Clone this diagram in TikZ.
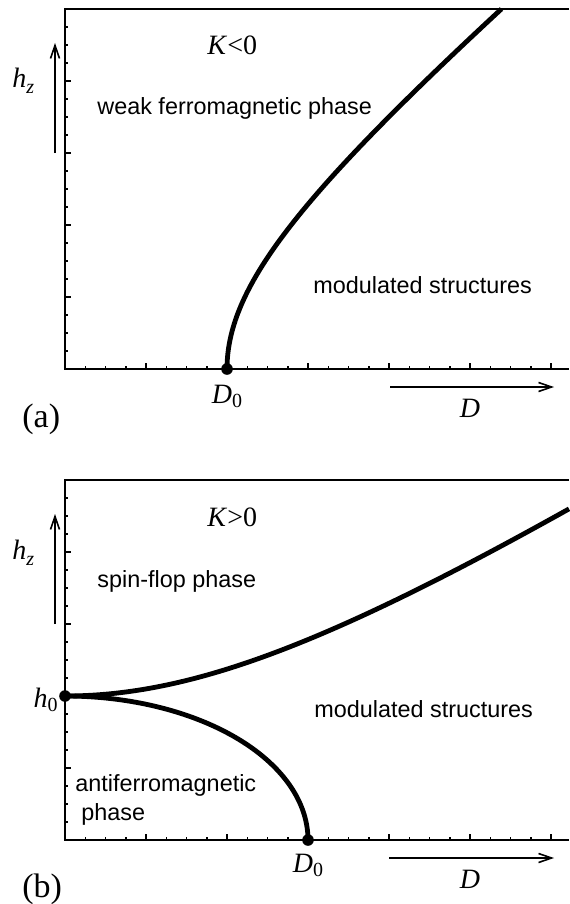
\documentclass[tikz,border=0pt]{standalone}
\usepackage{fontspec}
\setmainfont{Liberation Serif}
\newfontfamily\lsans{Liberation Sans}
\usetikzlibrary{arrows.meta}
\newcommand{\mysubs}[2][-2pt]{\raisebox{#1}{\fontsize{10}{12}\selectfont #2}}
\begin{document}
\begin{tikzpicture}[x=0.5pt,y=-0.5pt,
  axisline/.style={line width=1pt},
  tickline/.style={line width=0.75pt},
  curveline/.style={line width=2.4pt},
  dirarrow/.style={line width=0.8pt,-{Straight Barb[length=6.5pt,width=4.5pt]}},
  sanslabel/.style={font=\lsans\fontsize{11.7}{14}\selectfont, inner sep=0pt},
  seriflabel/.style={font=\fontsize{14}{17}\selectfont, inner sep=0pt},
  panellabel/.style={font=\fontsize{17}{20}\selectfont, inner sep=0pt},
  phasedot/.style={circle,fill=black,inner sep=0pt,minimum size=5.8pt}]
\useasboundingbox (0,0) rectangle (569,904);
% frames and ticks
\foreach \oy in {0,471} {
  \draw[axisline] (569,9+\oy) -- (65,9+\oy) -- (65,369+\oy) -- (569,369+\oy);
  \foreach \k in {1,...,19} {
    \pgfmathparse{mod(\k,4)==0 ? 6 : 3}\let\len\pgfmathresult
    \draw[tickline] (65,369+\oy-18*\k) -- ++(\len,0);
  }
  \foreach \k in {1,...,24} {
    \pgfmathparse{mod(\k,4)==0 ? 6 : 3}\let\len\pgfmathresult
    \draw[tickline] (65+20.25*\k,369+\oy) -- ++(0,-\len);
  }
}
% ---------- panel (a)
\node[phasedot] (d0a) at (227,369) {};
\draw[curveline] plot[domain=0:360, samples=90, variable=\t]
  ({227+196*(sqrt(1+(\t/165)^2)-1)}, {369-\t});
\coordinate (hza0) at (55,153);
\coordinate (hza1) at (55,43);
\draw[dirarrow] (hza0) -- (hza1);
\coordinate (dxa0) at (390,387);
\coordinate (dxa1) at (554,387);
\draw[dirarrow] (dxa0) -- (dxa1);
\node[seriflabel,anchor=base west] (hzla) at (12,88) {\textit{h}\mysubs[-3pt]{\textit{z}}};
\node[seriflabel,anchor=base west] (ka) at (207,55) {\textit{K}<0};
\node[sanslabel,anchor=base west] (wfa) at (97,115) {weak ferromagnetic phase};
\node[sanslabel,anchor=base west] (msa) at (313,293) {modulated structures};
\node[seriflabel,anchor=base] (d0la) at (227,403) {\textit{D}\mysubs{0}};
\node[seriflabel,anchor=base] (dla) at (470,417) {\textit{D}};
\node[panellabel,anchor=base west] (pa) at (22,427) {(a)};
% ---------- panel (b)
\node[phasedot] (h0b) at (65,696) {};
\node[phasedot] (d0b) at (308,840) {};
\draw[curveline] plot[domain=0:504, samples=90, variable=\s]
  ({65+\s}, {696-191*(sqrt(1+(\s/295)^2)-1)});
\draw[curveline] plot[domain=0:90, samples=90, variable=\t]
  ({65+243*sin(\t)}, {840-144*cos(\t)});
\coordinate (hzb0) at (55,624);
\coordinate (hzb1) at (55,514);
\draw[dirarrow] (hzb0) -- (hzb1);
\coordinate (dxb0) at (389,858);
\coordinate (dxb1) at (554,858);
\draw[dirarrow] (dxb0) -- (dxb1);
\node[seriflabel,anchor=base west] (hzlb) at (12,559) {\textit{h}\mysubs[-3pt]{\textit{z}}};
\node[seriflabel,anchor=base east] (h0lb) at (58,707) {\textit{h}\mysubs{0}};
\node[seriflabel,anchor=base west] (kb) at (207,526) {\textit{K}>0};
\node[sanslabel,anchor=base west] (sfb) at (97,587) {spin-flop phase};
\node[sanslabel,anchor=base west] (msb) at (314,717) {modulated structures};
\node[sanslabel,anchor=base west] (afb) at (75,791) {antiferromagnetic};
\node[sanslabel,anchor=base west] (afb2) at (81,820) {phase};
\node[seriflabel,anchor=base] (d0lb) at (308,872) {\textit{D}\mysubs{0}};
\node[seriflabel,anchor=base] (dlb) at (470,888) {\textit{D}};
\node[panellabel,anchor=base west] (pb) at (22,897) {(b)};
\end{tikzpicture}
\end{document}
